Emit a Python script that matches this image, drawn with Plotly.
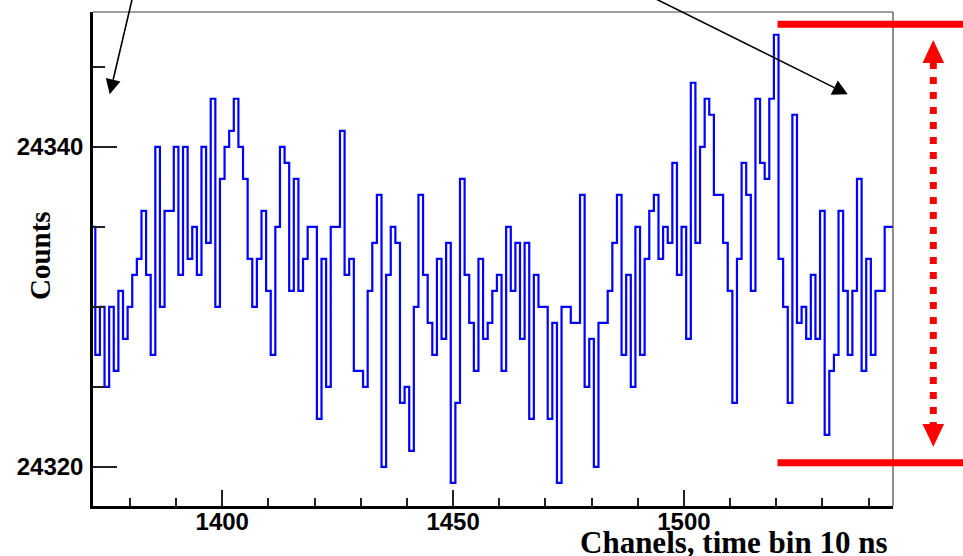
import plotly.graph_objects as go

# ---------------- data ----------------
first_channel = 1372
counts = [
    24335, 24327, 24330, 24325, 24330, 24326, 24331, 24328, 24330, 24332,
    24333, 24336, 24332, 24327, 24340, 24330, 24336, 24336, 24340, 24332,
    24340, 24333, 24335, 24332, 24340, 24334, 24343, 24330, 24338, 24340,
    24341, 24343, 24340, 24338, 24333, 24330, 24333, 24336, 24331, 24327,
    24335, 24340, 24339, 24331, 24338, 24331, 24333, 24335, 24335, 24323,
    24333, 24325, 24335, 24335, 24341, 24332, 24333, 24326, 24326, 24325,
    24331, 24334, 24337, 24320, 24332, 24335, 24334, 24324, 24325, 24321,
    24330, 24337, 24332, 24329, 24327, 24333, 24328, 24334, 24319, 24324,
    24338, 24332, 24329, 24326, 24333, 24328, 24329, 24331, 24332, 24326,
    24335, 24331, 24334, 24328, 24334, 24323, 24332, 24330, 24330, 24323,
    24329, 24319, 24330, 24330, 24329, 24329, 24337, 24325, 24328, 24320,
    24329, 24329, 24331, 24334, 24337, 24327, 24332, 24325, 24335, 24327,
    24333, 24336, 24337, 24333, 24335, 24334, 24339, 24332, 24335, 24328,
    24344, 24334, 24340, 24343, 24342, 24337, 24337, 24334, 24331, 24324,
    24333, 24339, 24337, 24331, 24343, 24339, 24338, 24343, 24347, 24333,
    24330, 24324, 24342, 24329, 24330, 24328, 24332, 24328, 24336, 24322,
    24326, 24327, 24336, 24331, 24327, 24331, 24338, 24326, 24333, 24327,
    24331, 24331, 24335, 24335,
]
x_tick_vals = [1400, 1450, 1500]
y_tick_vals = [24320, 24340]
x_title = "Chanels, time bin 10 ns"
y_title = "Counts"

# histogram outline built from bin edges
channels = list(range(first_channel, first_channel + len(counts)))
edges = [c - 0.5 for c in channels] + [channels[-1] + 0.5]
step_y = counts + [counts[-1]]

# ---------------- layout geometry ----------------
W, H = 963, 556
ML, MR, MT, MB = 93, 70, 12, 50
PL, PR, PT, PB = ML, W - MR, MT, H - MB


def px(xp):
    return (xp - PL) / (PR - PL)


def py(yp):
    return (PB - yp) / (PB - PT)


fig = go.Figure()
fig.add_trace(go.Scatter(
    x=edges, y=step_y, mode="lines", line_shape="hv",
    line=dict(color="#0000ff", width=2.2), hoverinfo="skip", showlegend=False,
))

tick_font = dict(family="Liberation Sans", size=24, color="black", weight="bold")

fig.update_xaxes(
    range=[1372, 1545.3], showgrid=False, zeroline=False,
    showline=True, linecolor="black", linewidth=2.5,
    ticks="inside", tickvals=x_tick_vals, ticktext=[str(v) for v in x_tick_vals],
    ticklen=16, tickwidth=1.5, tickcolor="#222",
    minor=dict(dtick=10, tick0=1400, ticks="inside", ticklen=8, tickwidth=1.5, tickcolor="#222"),
    tickfont=tick_font, ticklabelstandoff=-8,
)
fig.update_yaxes(
    range=[24317.56, 24348.42], showgrid=False, zeroline=False,
    showline=True, linecolor="black", linewidth=2.5,
    ticks="inside", tickvals=y_tick_vals, ticktext=[str(v) for v in y_tick_vals],
    ticklen=24, tickwidth=1.5, tickcolor="#222",
    minor=dict(dtick=5, tick0=24320, ticks="inside", ticklen=12, tickwidth=1.5, tickcolor="#222"),
    tickfont=tick_font, ticklabelstandoff=2,
)

shapes = []
# thin top/right frame
shapes.append(dict(type="line", xref="paper", yref="paper", x0=0, x1=1, y0=1, y1=1,
                   line=dict(color="#444", width=1.2)))
shapes.append(dict(type="line", xref="paper", yref="paper", x0=1, x1=1, y0=0, y1=1,
                   line=dict(color="#444", width=1.2)))

# red range markers
shapes.append(dict(type="line", xref="paper", yref="paper", x0=px(777.5), x1=px(963),
                   y0=py(24.3), y1=py(24.3), line=dict(color="#ff0000", width=7)))
shapes.append(dict(type="line", xref="paper", yref="paper", x0=px(777.5), x1=px(963),
                   y0=py(462.7), y1=py(462.7), line=dict(color="#ff0000", width=7)))
shapes.append(dict(type="line", xref="paper", yref="paper", x0=px(933.3), x1=px(933.3),
                   y0=py(62), y1=py(425), line=dict(color="#ff0000", width=7, dash="7px,8px")))


def tri_path(pts):
    return "M " + " L ".join(f"{px(a):.5f},{py(b):.5f}" for a, b in pts) + " Z"


shapes.append(dict(type="path", xref="paper", yref="paper",
                   path=tri_path([(933.3, 40), (922.5, 63), (944.1, 63)]),
                   fillcolor="#ff0000", line=dict(width=0)))
shapes.append(dict(type="path", xref="paper", yref="paper",
                   path=tri_path([(933.3, 446.7), (922.5, 424), (944.1, 424)]),
                   fillcolor="#ff0000", line=dict(width=0)))


def arrow(tail, tip, hl=15, hw=7.5):
    dx, dy = tip[0] - tail[0], tip[1] - tail[1]
    L = (dx * dx + dy * dy) ** 0.5
    ux, uy = dx / L, dy / L
    bx, by = tip[0] - hl * ux, tip[1] - hl * uy
    nx, ny = -uy, ux
    shapes.append(dict(type="line", xref="paper", yref="paper",
                       x0=px(tail[0]), y0=py(tail[1]), x1=px(bx), y1=py(by),
                       line=dict(color="black", width=1.6)))
    shapes.append(dict(type="path", xref="paper", yref="paper",
                       path=tri_path([tip, (bx + hw * nx, by + hw * ny), (bx - hw * nx, by - hw * ny)]),
                       fillcolor="black", line=dict(width=0)))


arrow((132.4, -2), (109.7, 94.3))
arrow((654, -2), (847.7, 94.3), hl=15, hw=8)

fig.update_layout(
    width=W, height=H, margin=dict(l=ML, r=MR, t=MT, b=MB, autoexpand=False),
    paper_bgcolor="white", plot_bgcolor="white", showlegend=False,
    shapes=shapes,
    annotations=[
        dict(text=y_title, xref="paper", yref="paper", x=px(40), y=py(256),
             xanchor="center", yanchor="middle", textangle=-90, showarrow=False,
             font=dict(family="Liberation Serif", size=29, color="black", weight="bold")),
        dict(text=x_title, xref="paper", yref="paper", x=px(889), y=py(542.5),
             xanchor="right", yanchor="middle", showarrow=False,
             font=dict(family="Liberation Serif", size=31, color="black", weight="bold")),
    ],
)

fig.write_html("out.html")
